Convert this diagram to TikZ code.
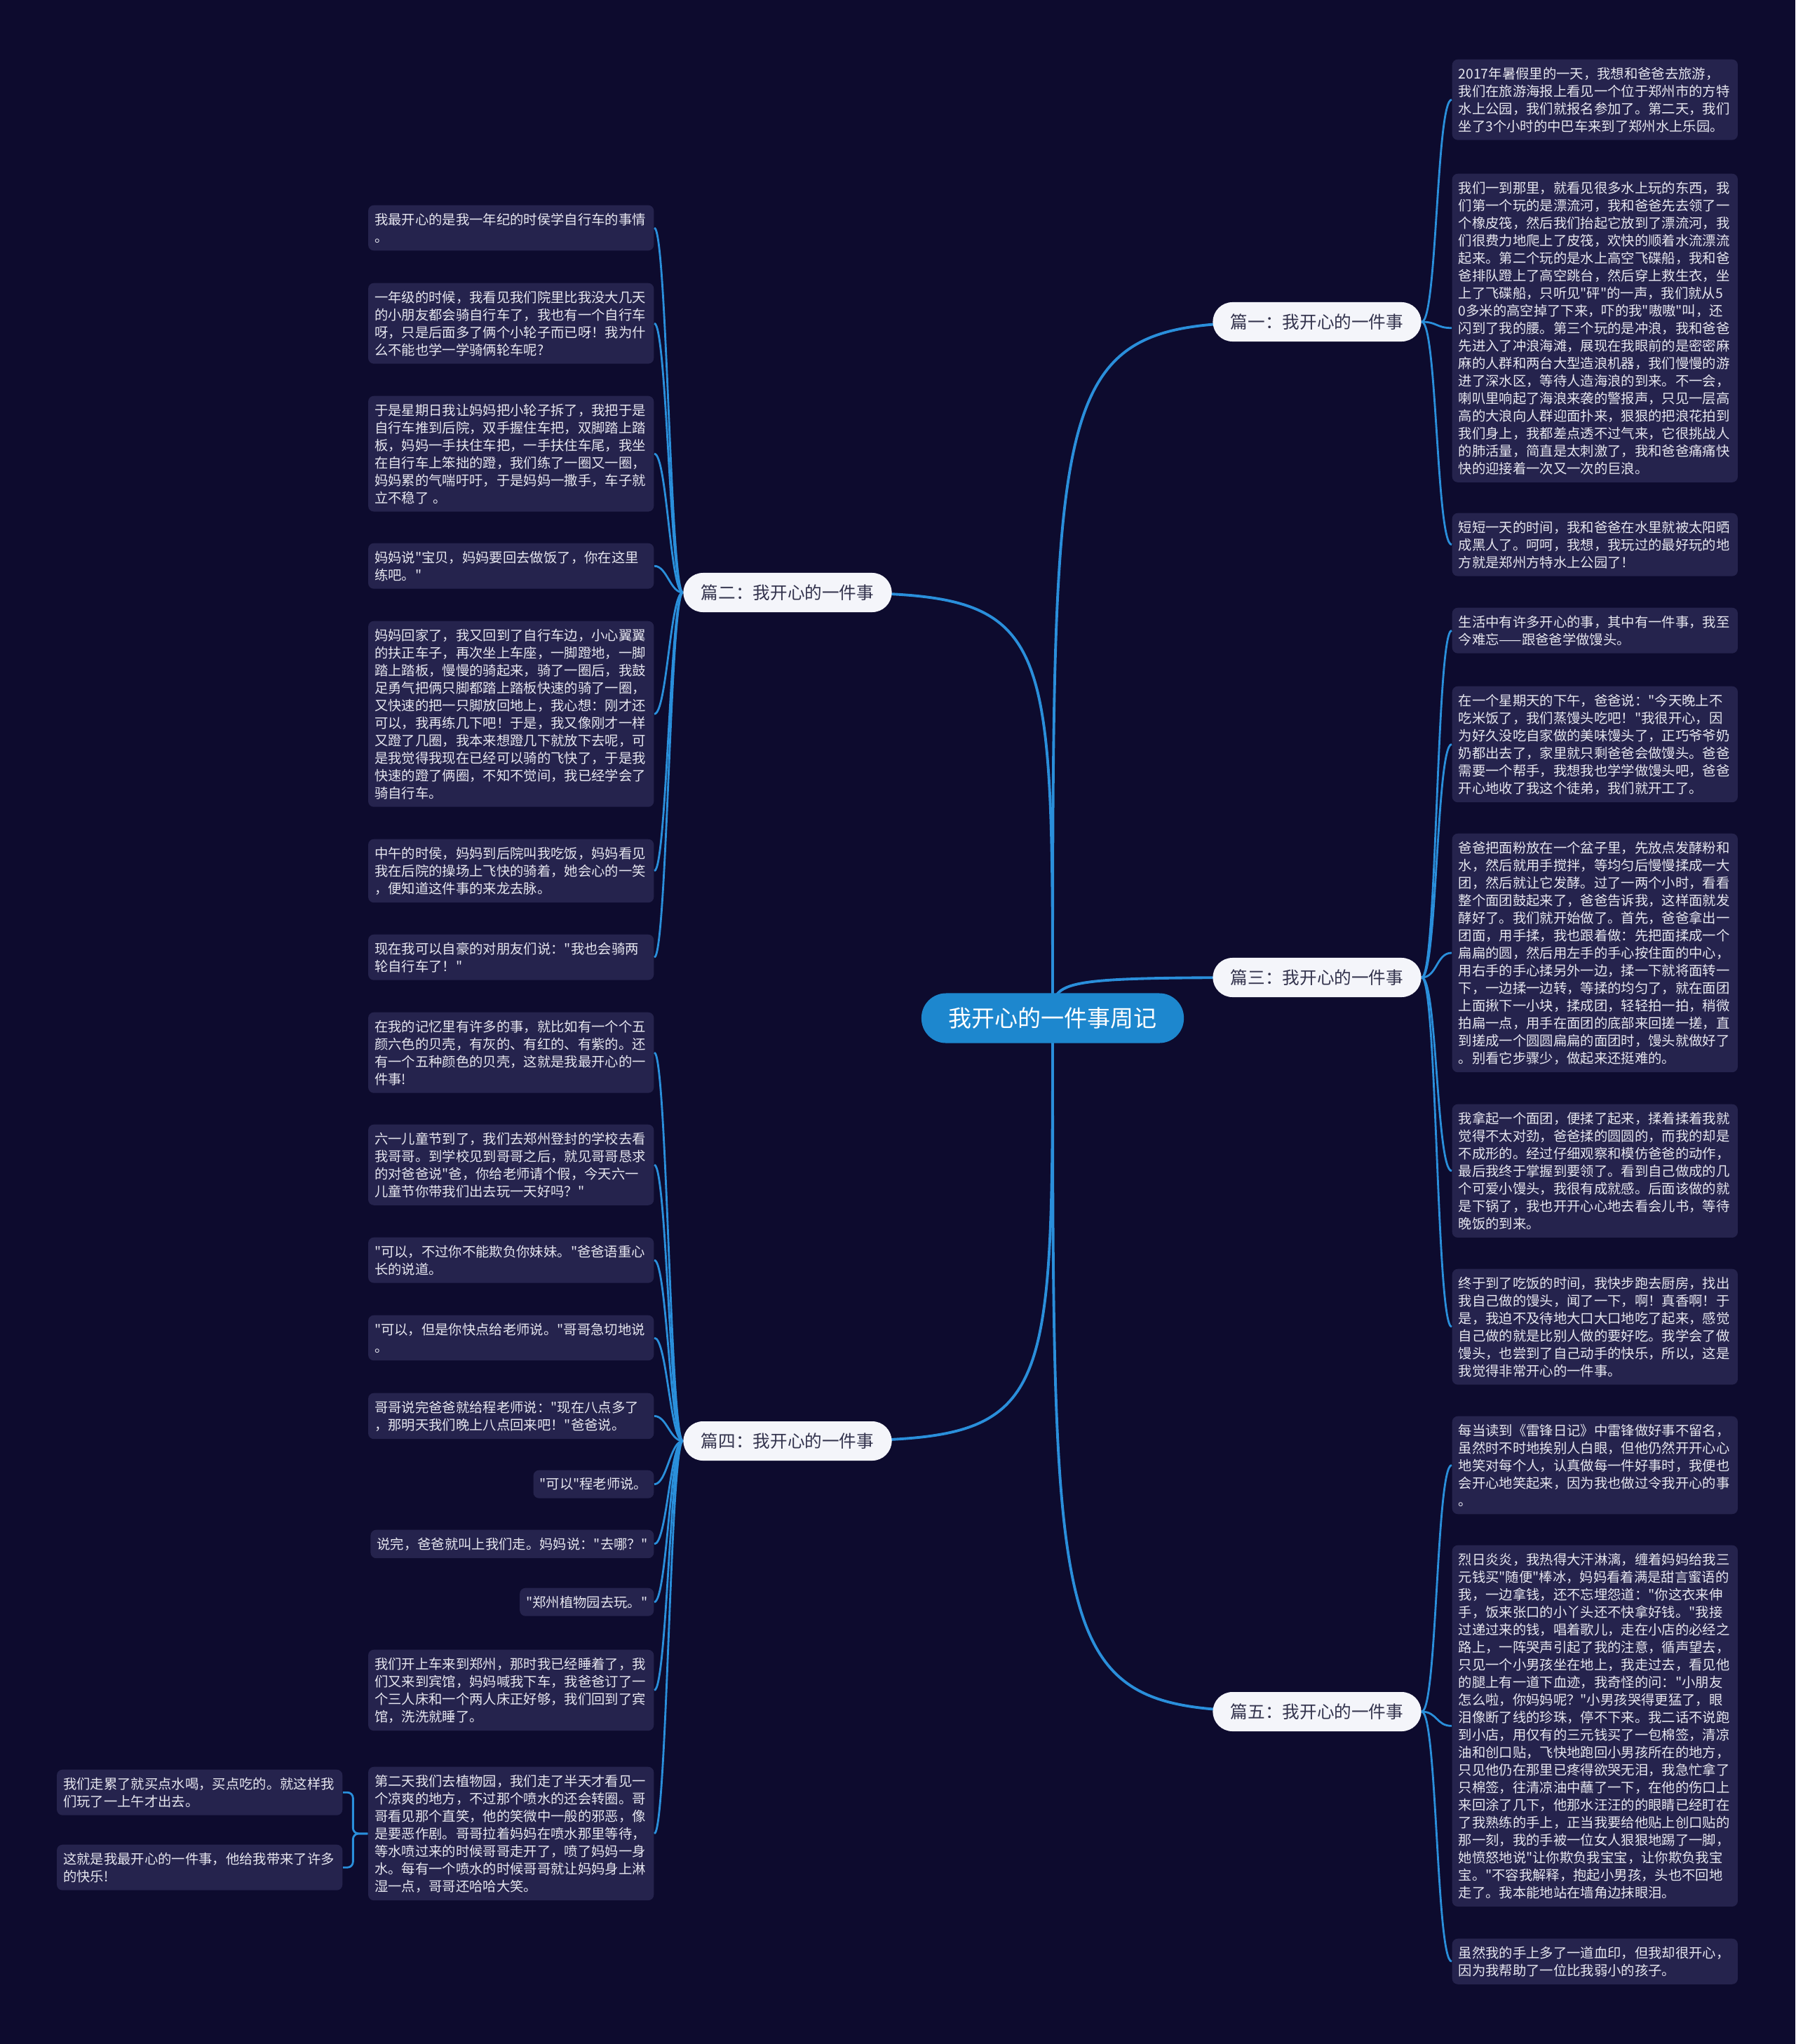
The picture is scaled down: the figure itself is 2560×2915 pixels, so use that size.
\documentclass[tikz,border=0pt]{standalone}
\usepackage{fontspec}
\setmainfont{Noto Sans CJK SC}[Ligatures=TeXOff]
\usetikzlibrary{calc}
\definecolor{bgc}{HTML}{0D0B2E}
\definecolor{leaffill}{HTML}{25234D}
\definecolor{linec}{HTML}{2A8FDB}
\definecolor{centerc}{HTML}{1D87CE}
\definecolor{leaftext}{HTML}{E6E6EF}
\definecolor{branchtext}{HTML}{33334D}
\definecolor{branchfill}{HTML}{F4F5FA}
\pgfdeclarelayer{back}
\pgfdeclarelayer{bg}
\pgfsetlayers{back,bg,main}
\begin{document}
\begin{tikzpicture}[x=0.01cm,y=-0.01cm,
  leaf/.style={fill=leaffill, rounded corners=0.08cm, text=leaftext,
    font=\fontsize{5.5pt}{7.11pt}\selectfont, inner xsep=0.09cm, inner ysep=0.11cm, align=left},
  wide/.style={leaf, text width=3.89cm},
  branch/.style={fill=branchfill, text=branchtext, rounded corners=0.28cm,
    minimum width=2.97cm, minimum height=0.56cm, inner sep=0pt, font=\fontsize{7pt}{8pt}\selectfont},
  centre/.style={fill=centerc, text=white, rounded corners=0.35cm,
    minimum width=3.74cm, minimum height=0.71cm, inner sep=0pt, font=\fontsize{9.4pt}{11pt}\selectfont},
  mainedge/.style={draw=linec, line width=1.1pt},
  leafedge/.style={draw=linec, line width=0.8pt}]
\begin{pgfonlayer}{back}
\fill[bgc] (0,0) rectangle (2560,2915);
\end{pgfonlayer}
\useasboundingbox (0,0) rectangle (2560,2915);

\node[centre] (c) at (1501,1452) {我开心的一件事周记};
\node[branch] (b1) at (1878,459) {篇一：我开心的一件事};
\node[branch] (b3) at (1878,1394) {篇三：我开心的一件事};
\node[branch] (b5) at (1878,2441) {篇五：我开心的一件事};
\node[branch] (b2) at (1123,845) {篇二：我开心的一件事};
\node[branch] (b4) at (1123,2055) {篇四：我开心的一件事};

% right column
\node[wide, anchor=north west] (r1) at (2070,84) {2017年暑假里的一天，我想和爸爸去旅游，\\我们在旅游海报上看见一个位于郑州市的方特\\水上公园，我们就报名参加了。第二天，我们\\坐了3个小时的中巴车来到了郑州水上乐园。};
\node[wide, anchor=north west] (r2) at (2070,247) {我们一到那里，就看见很多水上玩的东西，我\\们第一个玩的是漂流河，我和爸爸先去领了一\\个橡皮筏，然后我们抬起它放到了漂流河，我\\们很费力地爬上了皮筏，欢快的顺着水流漂流\\起来。第二个玩的是水上高空飞碟船，我和爸\\爸排队蹬上了高空跳台，然后穿上救生衣，坐\\上了飞碟船，只听见"砰"的一声，我们就从5\\0多米的高空掉了下来，吓的我"嗷嗷"叫，还\\闪到了我的腰。第三个玩的是冲浪，我和爸爸\\先进入了冲浪海滩，展现在我眼前的是密密麻\\麻的人群和两台大型造浪机器，我们慢慢的游\\进了深水区，等待人造海浪的到来。不一会，\\喇叭里响起了海浪来袭的警报声，只见一层高\\高的大浪向人群迎面扑来，狠狠的把浪花拍到\\我们身上，我都差点透不过气来，它很挑战人\\的肺活量，简直是太刺激了，我和爸爸痛痛快\\快的迎接着一次又一次的巨浪。};
\node[wide, anchor=north west] (r3) at (2070,731) {短短一天的时间，我和爸爸在水里就被太阳晒\\成黑人了。呵呵，我想，我玩过的最好玩的地\\方就是郑州方特水上公园了！};
\node[wide, anchor=north west] (r4) at (2070,866) {生活中有许多开心的事，其中有一件事，我至\\今难忘——跟爸爸学做馒头。};
\node[wide, anchor=north west] (r5) at (2070,978) {在一个星期天的下午，爸爸说："今天晚上不\\吃米饭了，我们蒸馒头吃吧！"我很开心，因\\为好久没吃自家做的美味馒头了，正巧爷爷奶\\奶都出去了，家里就只剩爸爸会做馒头。爸爸\\需要一个帮手，我想我也学学做馒头吧，爸爸\\开心地收了我这个徒弟，我们就开工了。};
\node[wide, anchor=north west] (r6) at (2070,1188) {爸爸把面粉放在一个盆子里，先放点发酵粉和\\水，然后就用手搅拌，等均匀后慢慢揉成一大\\团，然后就让它发酵。过了一两个小时，看看\\整个面团鼓起来了，爸爸告诉我，这样面就发\\酵好了。我们就开始做了。首先，爸爸拿出一\\团面，用手揉，我也跟着做：先把面揉成一个\\扁扁的圆，然后用左手的手心按住面的中心，\\用右手的手心揉另外一边，揉一下就将面转一\\下，一边揉一边转，等揉的均匀了，就在面团\\上面揪下一小块，揉成团，轻轻拍一拍，稍微\\拍扁一点，用手在面团的底部来回搓一搓，直\\到搓成一个圆圆扁扁的面团时，馒头就做好了\\。别看它步骤少，做起来还挺难的。};
\node[wide, anchor=north west] (r7) at (2070,1574) {我拿起一个面团，便揉了起来，揉着揉着我就\\觉得不太对劲，爸爸揉的圆圆的，而我的却是\\不成形的。经过仔细观察和模仿爸爸的动作，\\最后我终于掌握到要领了。看到自己做成的几\\个可爱小馒头，我很有成就感。后面该做的就\\是下锅了，我也开开心心地去看会儿书，等待\\晚饭的到来。};
\node[wide, anchor=north west] (r8) at (2070,1809) {终于到了吃饭的时间，我快步跑去厨房，找出\\我自己做的馒头，闻了一下，啊！真香啊！于\\是，我迫不及待地大口大口地吃了起来，感觉\\自己做的就是比别人做的要好吃。我学会了做\\馒头，也尝到了自己动手的快乐，所以，这是\\我觉得非常开心的一件事。};
\node[wide, anchor=north west] (r9) at (2070,2019) {每当读到《雷锋日记》中雷锋做好事不留名，\\虽然时不时地挨别人白眼，但他仍然开开心心\\地笑对每个人，认真做每一件好事时，我便也\\会开心地笑起来，因为我也做过令我开心的事\\。};
\node[wide, anchor=north west] (r10) at (2070,2203) {烈日炎炎，我热得大汗淋漓，缠着妈妈给我三\\元钱买"随便"棒冰，妈妈看着满是甜言蜜语的\\我，一边拿钱，还不忘埋怨道："你这衣来伸\\手，饭来张口的小丫头还不快拿好钱。"我接\\过递过来的钱，唱着歌儿，走在小店的必经之\\路上，一阵哭声引起了我的注意，循声望去，\\只见一个小男孩坐在地上，我走过去，看见他\\的腿上有一道下血迹，我奇怪的问："小朋友\\怎么啦，你妈妈呢？"小男孩哭得更猛了，眼\\泪像断了线的珍珠，停不下来。我二话不说跑\\到小店，用仅有的三元钱买了一包棉签，清凉\\油和创口贴，飞快地跑回小男孩所在的地方，\\只见他仍在那里已疼得欲哭无泪，我急忙拿了\\只棉签，往清凉油中蘸了一下，在他的伤口上\\来回涂了几下，他那水汪汪的的眼睛已经盯在\\了我熟练的手上，正当我要给他贴上创口贴的\\那一刻，我的手被一位女人狠狠地踢了一脚，\\她愤怒地说"让你欺负我宝宝，让你欺负我宝\\宝。"不容我解释，抱起小男孩，头也不回地\\走了。我本能地站在墙角边抹眼泪。};
\node[wide, anchor=north west] (r11) at (2070,2764) {虽然我的手上多了一道血印，但我却很开心，\\因为我帮助了一位比我弱小的孩子。};

% left column
\node[wide, anchor=north east] (l1) at (933,292) {我最开心的是我一年纪的时侯学自行车的事情\\。};
\node[wide, anchor=north east] (l2) at (933,403) {一年级的时候，我看见我们院里比我没大几天\\的小朋友都会骑自行车了，我也有一个自行车\\呀，只是后面多了俩个小轮子而已呀！我为什\\么不能也学一学骑俩轮车呢?};
\node[wide, anchor=north east] (l3) at (933,564) {于是星期日我让妈妈把小轮子拆了，我把于是\\自行车推到后院，双手握住车把，双脚踏上踏\\板，妈妈一手扶住车把，一手扶住车尾，我坐\\在自行车上笨拙的蹬，我们练了一圈又一圈，\\妈妈累的气喘吁吁，于是妈妈一撒手，车子就\\立不稳了 。};
\node[wide, anchor=north east] (l4) at (933,774) {妈妈说"宝贝，妈妈要回去做饭了，你在这里\\练吧。"};
\node[wide, anchor=north east] (l5) at (933,885) {妈妈回家了，我又回到了自行车边，小心翼翼\\的扶正车子，再次坐上车座，一脚蹬地，一脚\\踏上踏板，慢慢的骑起来，骑了一圈后，我鼓\\足勇气把俩只脚都踏上踏板快速的骑了一圈，\\又快速的把一只脚放回地上，我心想：刚才还\\可以，我再练几下吧！于是，我又像刚才一样\\又蹬了几圈，我本来想蹬几下就放下去呢，可\\是我觉得我现在已经可以骑的飞快了，于是我\\快速的蹬了俩圈，不知不觉间，我已经学会了\\骑自行车。};
\node[wide, anchor=north east] (l6) at (933,1196) {中午的时侯，妈妈到后院叫我吃饭，妈妈看见\\我在后院的操场上飞快的骑着，她会心的一笑\\，便知道这件事的来龙去脉。};
\node[wide, anchor=north east] (l7) at (933,1332) {现在我可以自豪的对朋友们说："我也会骑两\\轮自行车了！"};
\node[wide, anchor=north east] (l8) at (933,1443) {在我的记忆里有许多的事，就比如有一个个五\\颜六色的贝壳，有灰的、有红的、有紫的。还\\有一个五种颜色的贝壳，这就是我最开心的一\\件事!};
\node[wide, anchor=north east] (l9) at (933,1603) {六一儿童节到了，我们去郑州登封的学校去看\\我哥哥。到学校见到哥哥之后，就见哥哥恳求\\的对爸爸说"爸，你给老师请个假，今天六一\\儿童节你带我们出去玩一天好吗？"};
\node[wide, anchor=north east] (l10) at (933,1764) {"可以，不过你不能欺负你妹妹。"爸爸语重心\\长的说道。};
\node[wide, anchor=north east] (l11) at (933,1875) {"可以，但是你快点给老师说。"哥哥急切地说\\。};
\node[wide, anchor=north east] (l12) at (933,1986) {哥哥说完爸爸就给程老师说："现在八点多了\\，那明天我们晚上八点回来吧！"爸爸说。};
\node[leaf, anchor=north east] (l13) at (933,2096) {"可以"程老师说。};
\node[leaf, anchor=north east] (l14) at (933,2181) {说完，爸爸就叫上我们走。妈妈说："去哪？"};
\node[leaf, anchor=north east] (l15) at (933,2264) {"郑州植物园去玩。"};
\node[wide, anchor=north east] (l16) at (933,2352) {我们开上车来到郑州，那时我已经睡着了，我\\们又来到宾馆，妈妈喊我下车，我爸爸订了一\\个三人床和一个两人床正好够，我们回到了宾\\馆，洗洗就睡了。};
\node[wide, anchor=north east] (l17) at (933,2519) {第二天我们去植物园，我们走了半天才看见一\\个凉爽的地方，不过那个喷水的还会转圈。哥\\哥看见那个直笑，他的笑微中一般的邪恶，像\\是要恶作剧。哥哥拉着妈妈在喷水那里等待，\\等水喷过来的时候哥哥走开了，喷了妈妈一身\\水。每有一个喷水的时候哥哥就让妈妈身上淋\\湿一点，哥哥还哈哈大笑。};
\node[wide, anchor=north east] (k1) at (489,2523) {我们走累了就买点水喝，买点吃的。就这样我\\们玩了一上午才出去。};
\node[wide, anchor=north east] (k2) at (489,2630) {这就是我最开心的一件事，他给我带来了许多\\的快乐!};

\begin{pgfonlayer}{bg}
\foreach \b in {b1,b2,b3,b4,b5}
  \draw[mainedge] (c.center) .. controls (c.center |- \b.center) and (c.center |- \b.center) .. (\b.center);
\foreach \n in {r1,r2,r3}
  \draw[leafedge] (b1.east) .. controls +(22,0) and +(-22,0) .. (\n.west);
\foreach \n in {r4,r5,r6,r7,r8}
  \draw[leafedge] (b3.east) .. controls +(22,0) and +(-22,0) .. (\n.west);
\foreach \n in {r9,r10,r11}
  \draw[leafedge] (b5.east) .. controls +(22,0) and +(-22,0) .. (\n.west);
\foreach \n in {l1,l2,l3,l4,l5,l6,l7}
  \draw[leafedge] (b2.west) .. controls +(-18,0) and +(18,0) .. (\n.east);
\foreach \n in {l8,l9,l10,l11,l12,l13,l14,l15,l16,l17}
  \draw[leafedge] (b4.west) .. controls +(-18,0) and +(18,0) .. (\n.east);
\draw[leafedge, rounded corners=0.08cm] (l17.west) -- ++(-21,0) |- (k1.east);
\draw[leafedge, rounded corners=0.08cm] (l17.west) -- ++(-21,0) |- (k2.east);
\end{pgfonlayer}
\end{tikzpicture}
\end{document}
